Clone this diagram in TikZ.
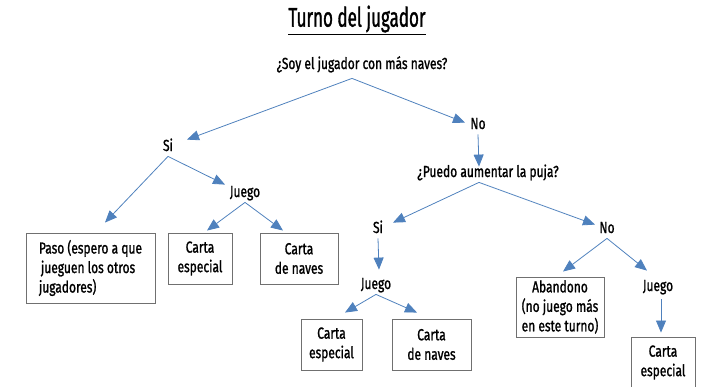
\documentclass[tikz,border=0pt]{standalone}
\usepackage{fontspec}
\setmainfont{Fira Sans}[FakeStretch=0.75, FakeBold=1.2]
\newfontfamily\titlefont{Fira Sans}[FakeStretch=0.63, FakeBold=1.2]
\usetikzlibrary{arrows.meta}
\definecolor{linkblue}{RGB}{79,129,189}
\definecolor{boxgray}{RGB}{112,112,112}

\begin{document}
\begin{tikzpicture}[x=1pt, y=-1pt, thick,
    txt/.style = {inner sep=2pt, text height=11pt, text depth=3pt, font=\fontsize{16pt}{19.5pt}\selectfont},
    card/.style = {draw=boxgray, line width=0.9pt, align=center, inner sep=0pt, font=\fontsize{16pt}{19.5pt}\selectfont},
    branch/.style = {draw=linkblue, line width=0.8pt, -{Triangle[length=12pt,width=10pt]}}]
    \useasboundingbox (0,0) rectangle (702,386);

    \node[font=\titlefont\fontsize{27pt}{30pt}\selectfont] (title) at (357,20) {\underline{Turno del jugador}};

    \node[txt] (root) at (362,65) {¿Soy el jugador con más naves?};
    \node[txt] (si1) at (168,147) {Si};
    \node[txt] (no1) at (478,125) {No};
    \node[txt] (juego1) at (245,193) {Juego};
    \node[txt] (puedo) at (488,173) {¿Puedo aumentar la puja?};
    \node[txt] (si2) at (378,229) {Si};
    \node[txt] (no2) at (607,229) {No};
    \node[txt] (juego2) at (376,285) {Juego};
    \node[txt] (juego3) at (658,287) {Juego};

    \node[card, minimum width=129pt, minimum height=70pt, align=left] (paso) at (90.5,268)
        {Paso (espero a que\\\hspace*{2pt}jueguen los otros\\jugadores)};
    \node[card, minimum width=64pt, minimum height=51pt] (especial1) at (200,258.5) {Carta\\especial};
    \node[card, minimum width=78pt, minimum height=51pt] (naves1) at (299,258.5) {Carta\\de naves};
    \node[card, minimum width=61pt, minimum height=51pt] (especial2) at (331.5,344.5) {Carta\\especial};
    \node[card, minimum width=79pt, minimum height=51pt] (naves2) at (431.5,344.5) {Carta\\de naves};
    \node[card, minimum width=88pt, minimum height=60pt] (abandono) at (560,307) {Abandono\\(no juego más\\en este turno)};
    \node[card, minimum width=64pt, minimum height=51pt] (especial3) at (663,362.5) {Carta\\especial};

    \draw[branch] ([xshift=-10pt,yshift=-4pt]root.south) -- ([xshift=19pt,yshift=-2pt]si1.north);
    \draw[branch] ([xshift=-10pt,yshift=-4pt]root.south) -- ([xshift=-13pt,yshift=-7pt]no1.north);
    \draw[branch] (no1.south) -- ([xshift=-9pt,yshift=-3pt]puedo.north);

    \draw[branch] (si1.south) -- ([xshift=14.5pt,yshift=10pt]paso.north);
    \draw[branch] (si1.south) -- ([xshift=-20pt,yshift=-1pt]juego1.north);
    \draw[branch] (juego1.south) -- ([xshift=7pt,yshift=2pt]especial1.north);
    \draw[branch] (juego1.south) -- ([xshift=-16pt,yshift=2pt]naves1.north);

    \draw[branch] ([xshift=-9pt]puedo.south) -- ([xshift=15pt,yshift=-3pt]si2.north);
    \draw[branch] ([xshift=-9pt]puedo.south) -- ([xshift=-12pt,yshift=-5pt]no2.north);
    \draw[branch] (si2.south) -- ([xshift=3pt,yshift=6pt]juego2.north);
    \draw[branch] (juego2.south) -- ([xshift=13.5pt,yshift=6pt]especial2.north);
    \draw[branch] (juego2.south) -- ([xshift=-14.5pt,yshift=6pt]naves2.north);

    \draw[branch] (no2.south) -- ([xshift=3pt,yshift=5pt]abandono.north);
    \draw[branch] (no2.south) -- ([xshift=-11pt,yshift=7pt]juego3.north);
    \draw[branch] ([xshift=3pt,yshift=-3pt]juego3.south) -- ([xshift=-2pt,yshift=4pt]especial3.north);
\end{tikzpicture}
\end{document}
